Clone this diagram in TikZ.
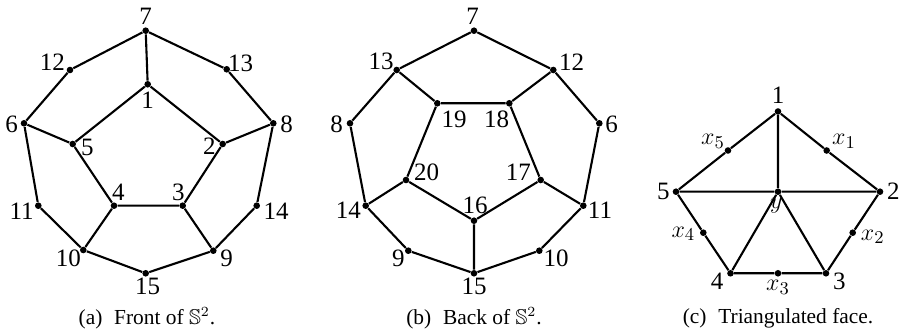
\documentclass[tikz,border=0pt]{standalone}
\usepackage{amssymb}
\usepackage{fontspec}
\setmainfont{Liberation Serif}
\tikzset{
  vtx/.style={circle,fill=black,inner sep=0pt,minimum size=3.3pt},
  lbl/.style={font=\fontsize{12.5}{13}\selectfont,inner sep=0pt},
  edge/.style={line width=1.05pt},
  capt/.style={font=\fontsize{10.7}{12}\selectfont,inner sep=0pt}
}
\newcommand\V[5]{\node[vtx,label={[lbl,shift={(#4,#5)}]center:#3}] (#1) at #2 {};}
\begin{document}
\begin{tikzpicture}[x=0.5pt,y=-0.5pt]
\useasboundingbox (0,0) rectangle (901,331);
% ---------- (a) front ----------
\V{a7}{(145.7,30.7)}{7}{0}{-14}
\V{a12}{(70,70)}{12}{-17.7}{-7.3}
\V{a13}{(226.7,69.3)}{13}{14}{-6}
\V{a1}{(147.7,84.3)}{1}{0}{15.7}
\V{a6}{(24,123.3)}{6}{-12.3}{0.7}
\V{a8}{(273.3,123.3)}{8}{13.3}{0.7}
\V{a5}{(72.7,144)}{5}{14.7}{3.3}
\V{a2}{(222.7,144)}{2}{-13.3}{2.7}
\V{a4}{(114,205.7)}{4}{4.3}{-13}
\V{a3}{(182.7,205.7)}{3}{-4.3}{-13}
\V{a11}{(38.3,205.7)}{11}{-16.7}{5.7}
\V{a14}{(256.7,205.7)}{14}{19.3}{5.7}
\V{a10}{(83.3,250)}{10}{-15}{8.3}
\V{a9}{(213.3,250.7)}{9}{13.3}{7.7}
\V{a15}{(145.7,273.3)}{15}{2}{12.7}
\draw[edge] (a7)--(a1) (a7)--(a12) (a7)--(a13) (a12)--(a6) (a13)--(a8)
  (a1)--(a5) (a1)--(a2) (a6)--(a5) (a8)--(a2) (a6)--(a11) (a8)--(a14)
  (a5)--(a4) (a2)--(a3) (a4)--(a3) (a11)--(a10) (a14)--(a9)
  (a4)--(a10) (a3)--(a9) (a10)--(a15) (a9)--(a15);
\node[capt] (capa) at (147,318) {(a)\hspace{0.55em}Front of $\mathbb{S}^2$.};
% ---------- (b) back ----------
\V{b7}{(474,30.7)}{7}{-1.3}{-14}
\V{b13}{(396.7,70)}{13}{-15.7}{-8.3}
\V{b12}{(553.3,70)}{12}{18.3}{-7.3}
\V{b19}{(437.3,103.3)}{19}{16.7}{15.7}
\V{b18}{(509.3,103.3)}{18}{-12.7}{15.7}
\V{b8}{(350,123.3)}{8}{-13.3}{0.7}
\V{b6}{(599.3,123.3)}{6}{12.3}{0.7}
\V{b20}{(406,180)}{20}{20.7}{-7.3}
\V{b17}{(540.7,180)}{17}{-22.3}{-7.3}
\V{b14}{(365.7,205.7)}{14}{-17.3}{5}
\V{b11}{(583.3,205.7)}{11}{16.7}{5}
\V{b16}{(474,220.7)}{16}{1}{-15.7}
\V{b9}{(408.3,250.7)}{9}{-10}{7.7}
\V{b10}{(539.3,250.7)}{10}{16.7}{7.7}
\V{b15}{(474,273.3)}{15}{0}{13.3}
\draw[edge] (b7)--(b13) (b7)--(b12) (b13)--(b8) (b12)--(b6) (b13)--(b19)
  (b12)--(b18) (b19)--(b18) (b19)--(b20) (b18)--(b17) (b8)--(b14)
  (b6)--(b11) (b20)--(b14) (b17)--(b11) (b20)--(b16) (b17)--(b16)
  (b16)--(b15) (b14)--(b9) (b11)--(b10) (b9)--(b15) (b10)--(b15);
\node[capt] (capb) at (474,318) {(b)\hspace{0.55em}Back of $\mathbb{S}^2$.};
% ---------- (c) triangulated face ----------
\V{c1}{(778,111.5)}{1}{0}{-16}
\V{cx5}{(728,150.5)}{$x_5$}{-15}{-9}
\V{cx1}{(826.7,150.5)}{$x_1$}{17.3}{-9}
\V{c5}{(676,191.7)}{5}{-12.7}{0}
\V{cy}{(778,191.7)}{$y$}{-1.7}{14}
\V{c2}{(880,191.7)}{2}{13.3}{0}
\V{cx4}{(703.3,232.7)}{$x_4$}{-20}{1.3}
\V{cx2}{(852.7,232.7)}{$x_2$}{20}{4}
\V{c4}{(730.5,273.3)}{4}{-13.3}{8.3}
\V{cx3}{(778,273.3)}{$x_3$}{0}{14}
\V{c3}{(826,273.3)}{3}{13.3}{8.3}
\draw[edge] (c1)--(cx5)--(c5) (c1)--(cx1)--(c2) (c1)--(cy)
  (c5)--(cy)--(c2) (c5)--(cx4)--(c4) (c2)--(cx2)--(c3)
  (c4)--(cx3)--(c3) (cy)--(c4) (cy)--(c3);
\node[capt] (capc) at (778,318) {(c)\hspace{0.55em}Triangulated face.};
\end{tikzpicture}
\end{document}
